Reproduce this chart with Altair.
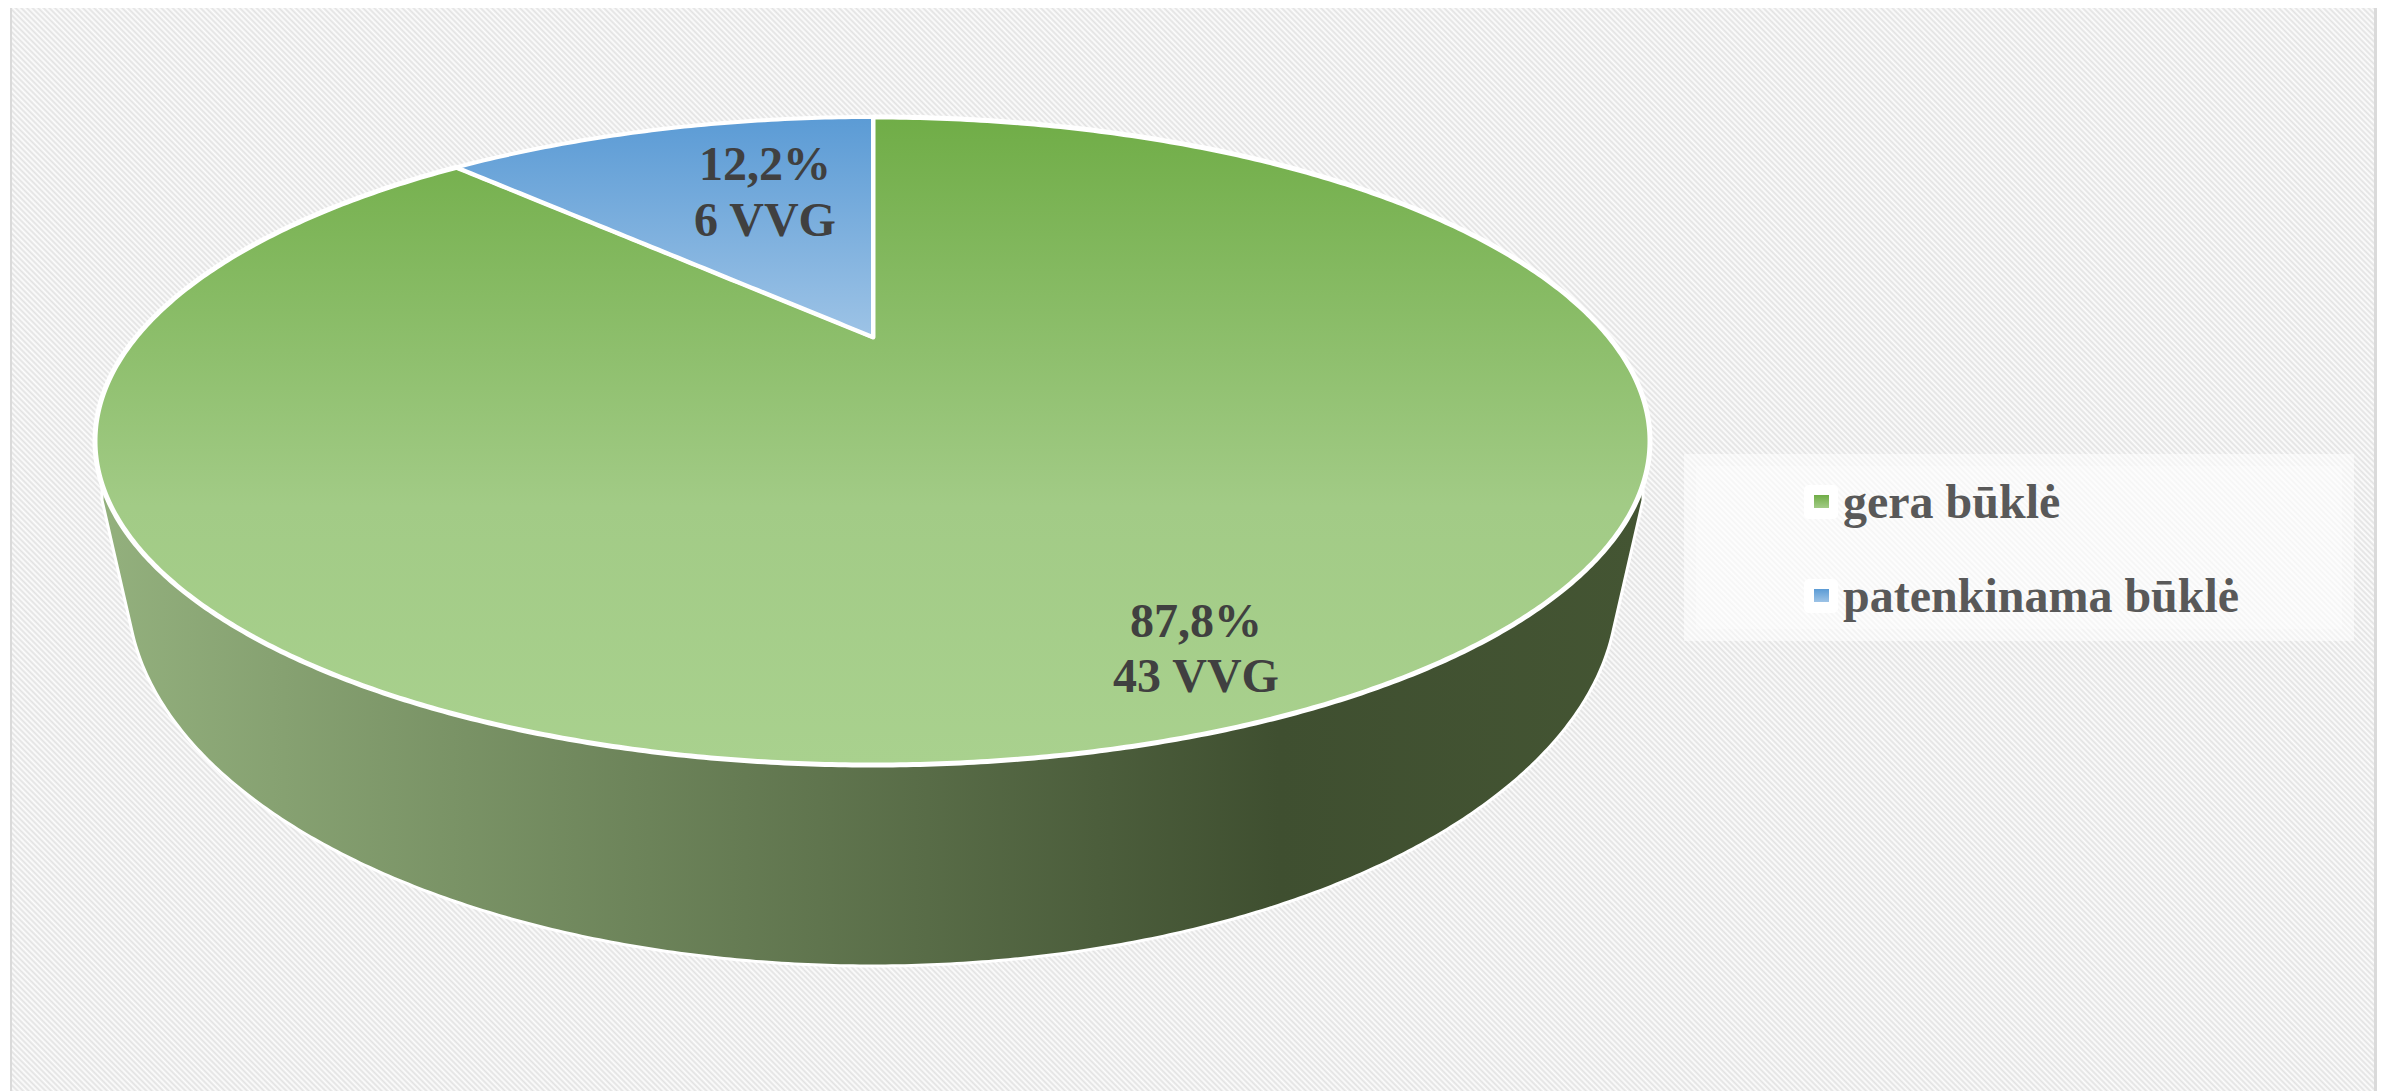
import math
import altair as alt
import pandas as pd

# ---- chart data
categories = ["gera būklė", "patenkinama būklė"]
values = [43, 6]
percent_labels = ["87,8%", "12,2%"]
count_labels = ["43 VVG", "6 VVG"]

# ---- reference frame: one domain unit = one pixel of the page
X_DOM = [8, 2381]
Y_DOM = [1091, 8]
xs = alt.Scale(domain=X_DOM, range=[0, X_DOM[1] - X_DOM[0]], nice=False, zero=False)
ys = alt.Scale(domain=Y_DOM, range=[Y_DOM[0] - Y_DOM[1], 0], nice=False, zero=False)
X = alt.X("x:Q", scale=xs, axis=None)
Y = alt.Y("y:Q", scale=ys, axis=None)
X2 = alt.X2("x2:Q")
Y2 = alt.Y2("y2:Q")

FONT = "Liberation Serif"

# ---- pie geometry (perspective-projected disc)
CX, CY, RX, RY = 872.5, 441.0, 777.5, 324.0
AX, AY = 873.0, 337.0
P = 0.3209
A = RX * math.sqrt(1 - P * P)
B = 220.0 * (1 + P)
LOW_CY, LOW_RX, LOW_RY = 590.0, 745.0, 376.0
WALL_TOP_DX = 770.5
WALL_START_Y = 500.0

share = values[1] / sum(values)
phi = 2 * math.pi * share
w = 1 + P * math.cos(phi)
EX = AX - A * math.sin(phi) / w
EY = AY - B * math.cos(phi) / w


def top_y(x):
    r = max(0.0, 1 - ((x - CX) / RX) ** 2)
    return CY - RY * math.sqrt(r)


def bot_y(x):
    r = max(0.0, 1 - ((x - CX) / RX) ** 2)
    return CY + RY * math.sqrt(r)


N = 360
ts = [math.pi * (1 - i / N) for i in range(N + 1)]
sweep = [CX + RX * math.cos(t) for t in ts]

green = []
for x in sweep:
    if x < EX or x > AX:
        green.append({"x": x, "y": top_y(x), "y2": bot_y(x)})
    else:
        f = (x - EX) / (AX - EX)
        green.append({"x": x, "y": EY + f * (AY - EY), "y2": bot_y(x)})
# wedge corners
green += [
    {"x": EX, "y": EY, "y2": bot_y(EX)},
    {"x": AX - 0.01, "y": AY, "y2": bot_y(AX)},
    {"x": AX + 0.01, "y": top_y(AX), "y2": bot_y(AX)},
]
green.sort(key=lambda d: d["x"])

blue = [{"x": EX, "y": EY, "y2": EY}]
for x in sweep:
    if EX < x < AX:
        f = (x - EX) / (AX - EX)
        blue.append({"x": x, "y": top_y(x), "y2": EY + f * (AY - EY)})
blue.append({"x": AX, "y": top_y(AX), "y2": AY})


def tangent_point(side):
    # point of the lower ellipse whose tangent goes through the wall's start
    px, py = side * WALL_TOP_DX, WALL_START_Y - LOW_CY
    best, best_v = None, 1e18
    for i in range(1, 1000):
        t = (math.pi / 2) * i / 1000
        qx, qy = side * LOW_RX * math.cos(t), LOW_RY * math.sin(t)
        tx, ty = -side * LOW_RX * math.sin(t), LOW_RY * math.cos(t)
        v = abs((qx - px) * ty - (qy - py) * tx)
        if v < best_v:
            best, best_v = (qx, qy), v
    return best


tl = tangent_point(-1)
tr = tangent_point(1)
wall = [{"x": CX - WALL_TOP_DX, "y": CY, "y2": WALL_START_Y}]
wall.append({"x": CX + tl[0], "y": CY, "y2": LOW_CY + tl[1]})
for i in range(N + 1):
    t = math.pi * (1 - i / N)
    qx, qy = LOW_RX * math.cos(t), LOW_RY * abs(math.sin(t))
    if tl[0] < qx < tr[0]:
        wall.append({"x": CX + qx, "y": CY, "y2": LOW_CY + qy})
wall.append({"x": CX + tr[0], "y": CY, "y2": LOW_CY + tr[1]})
wall.append({"x": CX + WALL_TOP_DX, "y": CY, "y2": WALL_START_Y})


def grad_v(stops):
    return alt.Gradient(
        gradient="linear", x1=0, y1=0, x2=0, y2=1,
        stops=[alt.GradientStop(offset=o, color=c) for o, c in stops],
    )


green_fill = grad_v([(0, "#70AD47"), (0.6, "#A2CB86"), (1, "#A9D18E")])
blue_fill = grad_v([(0, "#5B9BD5"), (1, "#9DC3E6")])
wall_fill = alt.Gradient(
    gradient="linear", x1=0, y1=0, x2=1, y2=0,
    stops=[
        alt.GradientStop(offset=0, color="#93B07D"),
        alt.GradientStop(offset=0.764, color="#3F4F30"),
        alt.GradientStop(offset=1, color="#445533"),
    ],
)

# ---- hatched chart background
BG = {"x": 12, "x2": 2374, "y": 8, "y2": 1091}
W = BG["x2"] - BG["x"]
H = BG["y2"] - BG["y"]
r = H / W
k = (1 + r) / (1 + r * r)
PERIOD = 5.6
n_per = int((W + H) / PERIOD)
stops = []
for i in range(n_per):
    a = i / n_per
    b = (i + 0.5) / n_per
    stops.append(alt.GradientStop(offset=a, color="#E2E2E2"))
    stops.append(alt.GradientStop(offset=b, color="#FDFDFD"))
stops.append(alt.GradientStop(offset=1, color="#E2E2E2"))
hatch_fill = alt.Gradient(gradient="linear", x1=0, y1=1, x2=k, y2=1 - k * r, stops=stops)


def rect(row, **mark):
    return alt.Chart(pd.DataFrame([row])).mark_rect(**mark).encode(x=X, x2=X2, y=Y, y2=Y2)


bg = rect(BG, fill=hatch_fill)
border_l = rect({"x": 10, "x2": 12, "y": 8, "y2": 1091}, fill="#DADADA")
border_r = rect({"x": 2374, "x2": 2377, "y": 8, "y2": 1091}, fill="#DADADA")
legend_outer = rect({"x": 1684, "x2": 2354, "y": 454, "y2": 641}, fill="#FFFFFF", opacity=0.5)
legend_inner = rect({"x": 1696, "x2": 2342, "y": 466, "y2": 629}, fill="#FFFFFF", opacity=0.3)


def area(rows, fill, sw):
    return (
        alt.Chart(pd.DataFrame(rows))
        .mark_area(fill=fill, stroke="#FFFFFF", strokeWidth=sw, strokeJoin="round", opacity=1)
        .encode(x=X, y=Y, y2=Y2)
    )


wall_layer = area(wall, wall_fill, 3)
green_layer = area(green, green_fill, 5)
blue_layer = area(blue, blue_fill, 4)

# ---- data labels
label_rows = [
    {"x": 1196, "y": 637, "t": percent_labels[0]},
    {"x": 1196, "y": 692, "t": count_labels[0]},
    {"x": 765, "y": 180, "t": percent_labels[1]},
    {"x": 765, "y": 236, "t": count_labels[1]},
]
labels = (
    alt.Chart(pd.DataFrame(label_rows))
    .mark_text(font=FONT, fontWeight="bold", fontSize=48, color="#404040", align="center", baseline="alphabetic")
    .encode(x=X, y=Y, text="t:N")
)

# ---- legend
legend_rows = [
    {"x": 1843, "y": 518, "t": categories[0]},
    {"x": 1843, "y": 612, "t": categories[1]},
]
legend_text = (
    alt.Chart(pd.DataFrame(legend_rows))
    .mark_text(font=FONT, fontWeight="bold", fontSize=48, color="#595959", align="left", baseline="alphabetic")
    .encode(x=X, y=Y, text="t:N")
)
key_bg = [
    rect({"x": 1804, "x2": 1838, "y": 485, "y2": 519}, fill="#FFFFFF", cornerRadius=5),
    rect({"x": 1804, "x2": 1838, "y": 579, "y2": 613}, fill="#FFFFFF", cornerRadius=5),
]
key_fg = [
    rect({"x": 1814, "x2": 1829, "y": 495, "y2": 508}, fill=grad_v([(0, "#70AD47"), (1, "#A2CB86")])),
    rect({"x": 1814, "x2": 1829, "y": 589, "y2": 602}, fill=grad_v([(0, "#5B9BD5"), (1, "#9DC3E6")])),
]

chart = (
    alt.layer(
        bg, border_l, border_r, legend_outer, legend_inner,
        wall_layer, green_layer, blue_layer, labels,
        *key_bg, *key_fg, legend_text,
    )
    .properties(
        width=X_DOM[1] - X_DOM[0],
        height=Y_DOM[0] - Y_DOM[1],
        padding=0,
        autosize=alt.AutoSizeParams(type="none"),
    )
    .configure_view(stroke=None)
)

chart.save("out.html", embed_options={"renderer": "svg", "actions": False})
